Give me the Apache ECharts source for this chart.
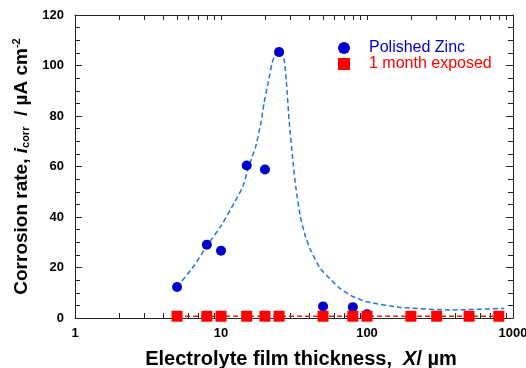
<!DOCTYPE html>
<html>
<head>
<meta charset="utf-8">
<script src="https://cdn.jsdelivr.net/npm/echarts@6/dist/echarts.min.js"></script>
<style>
  html, body { margin: 0; padding: 0; background: #fff; }
  #chart { width: 526px; height: 368px; }
</style>
</head>
<body>
<div id="chart"></div>
<script>
var zincPts = [[5,12.3],[8,29],[10,26.6],[15,60.4],[20,58.8],[25,105.3],[50,4.6],[80,4.3],[100,1.5],[200,0.8],[500,0.8]];
var exposedPts = [[5,0.7],[8,0.7],[10,0.7],[15,0.7],[20,0.7],[25,0.7],[50,0.7],[80,0.7],[100,0.7],[200,0.7],[300,0.7],[500,0.7],[800,0.7]];
// dashed fit curve
var fitCurve = [[5,12.3],[6.5,20.5],[8,28.5],[10,36.5],[12.3,45.5],[14.1,52],[15.5,60],[17.3,68],[18.8,77.5],[19.7,85],[21,93],[22.4,101],[23.7,105],[25.3,106],[27,102.5],[28,94],[29.3,78],[31,63],[32.5,52],[35,40],[38,32],[41,27],[48,19.5],[57,15],[66,11.5],[80,8.5],[100,6.4],[170,4.2],[376,3.2],[870,3.8]];
var xTicks = [1,2,3,4,5,6,7,8,9,10,20,30,40,50,60,70,80,90,100,200,300,400,500,600,700,800,900,1000];
var xLabels = [1,10,100,1000];

var font = 'Liberation Sans';
var chart = echarts.init(document.getElementById('chart'));

function axisLine() {
    return { show: true, onZero: false, lineStyle: { color: '#222', width: 1 } };
}
function tickStyle() {
    return { color: '#222', width: 1 };
}

var option = {
    backgroundColor: '#fff',
    animation: false,
    grid: { left: 75, right: 13, top: 15, bottom: 50, outerBoundsMode: 'none' },
    legend: {
        orient: 'vertical',
        left: 333,
        top: 35,
        itemGap: 0,
        itemWidth: 12,
        itemHeight: 12,
        textStyle: { fontFamily: font, fontSize: 16, padding: [0, 0, 0, 14] },
        data: [
            { name: 'Polished Zinc', icon: 'circle', textStyle: { color: '#0000CC' } },
            { name: '1 month exposed', icon: 'rect', textStyle: { color: '#FF0000' } }
        ]
    },
    xAxis: [{
        type: 'log',
        logBase: 10,
        min: 1,
        max: 1000,
        name: 'Electrolyte film thickness,  {it|X}/ \u00b5m',
        nameLocation: 'middle',
        nameGap: 31,
        nameTextStyle: {
            fontFamily: font, fontSize: 20, fontWeight: 'bold', color: '#000', padding: [0, 0, 0, 14],
            rich: { it: { fontFamily: font, fontSize: 20, fontWeight: 'bold', fontStyle: 'italic', color: '#000' } }
        },
        axisLine: axisLine(),
        axisTick: { show: true, inside: true, length: 5, customValues: xTicks, lineStyle: tickStyle() },
        axisLabel: {
            customValues: xLabels, fontFamily: font, fontSize: 13, fontWeight: 'bold', color: '#000', margin: 9,
            formatter: function (v) { return String(Math.round(v)); }
        },
        splitLine: { show: false }
    }, {
        type: 'log',
        logBase: 10,
        min: 1,
        max: 1000,
        position: 'top',
        axisLine: axisLine(),
        axisTick: { show: true, inside: true, length: 5, customValues: xTicks, lineStyle: tickStyle() },
        axisLabel: { show: false, customValues: xLabels },
        splitLine: { show: false }
    }],
    yAxis: [{
        type: 'value',
        min: 0,
        max: 120,
        interval: 20,
        name: 'Corrosion rate, {it|i}{sub|corr}  / \u00b5A cm{sup|-2}',
        nameLocation: 'middle',
        nameGap: 36,
        nameTextStyle: {
            fontFamily: font, fontSize: 19, fontWeight: 'bold', color: '#000',
            rich: {
                it: { fontFamily: font, fontSize: 19, fontWeight: 'bold', fontStyle: 'italic', color: '#000' },
                sub: { fontFamily: font, fontSize: 11, fontWeight: 'bold', color: '#000', verticalAlign: 'bottom', padding: [9, 0, 0, 0] },
                sup: { fontFamily: font, fontSize: 11, fontWeight: 'bold', color: '#000', verticalAlign: 'top', padding: [0, 0, 9, 0] }
            }
        },
        axisLine: axisLine(),
        axisTick: { show: true, inside: true, length: 7, lineStyle: tickStyle() },
        minorTick: { show: true, splitNumber: 4, length: 5, lineStyle: tickStyle() },
        axisLabel: { fontFamily: font, fontSize: 13, fontWeight: 'bold', color: '#000', margin: 11 },
        splitLine: { show: false }
    }, {
        type: 'value',
        min: 0,
        max: 120,
        interval: 20,
        position: 'right',
        axisLine: axisLine(),
        axisTick: { show: true, inside: true, length: 7, lineStyle: tickStyle() },
        minorTick: { show: true, splitNumber: 4, length: 5, lineStyle: tickStyle() },
        axisLabel: { show: false },
        splitLine: { show: false }
    }],
    series: [{
        name: 'fit',
        type: 'line',
        data: fitCurve,
        smooth: 0.2,
        showSymbol: false,
        silent: true,
        z: 2,
        lineStyle: { color: '#1E78D2', width: 1.5, type: [5, 3] }
    }, {
        name: '1 month exposed',
        type: 'line',
        data: exposedPts,
        symbol: 'rect',
        symbolSize: 11,
        z: 4,
        itemStyle: { color: '#FF0000', opacity: 1 },
        lineStyle: { color: '#D02818', width: 1.5, type: [5, 3] }
    }, {
        name: 'Polished Zinc',
        type: 'scatter',
        data: zincPts,
        symbol: 'circle',
        symbolSize: 10,
        z: 3,
        itemStyle: { color: '#0000CC', opacity: 1 }
    }]
};
chart.setOption(option);
</script>
</body>
</html>
